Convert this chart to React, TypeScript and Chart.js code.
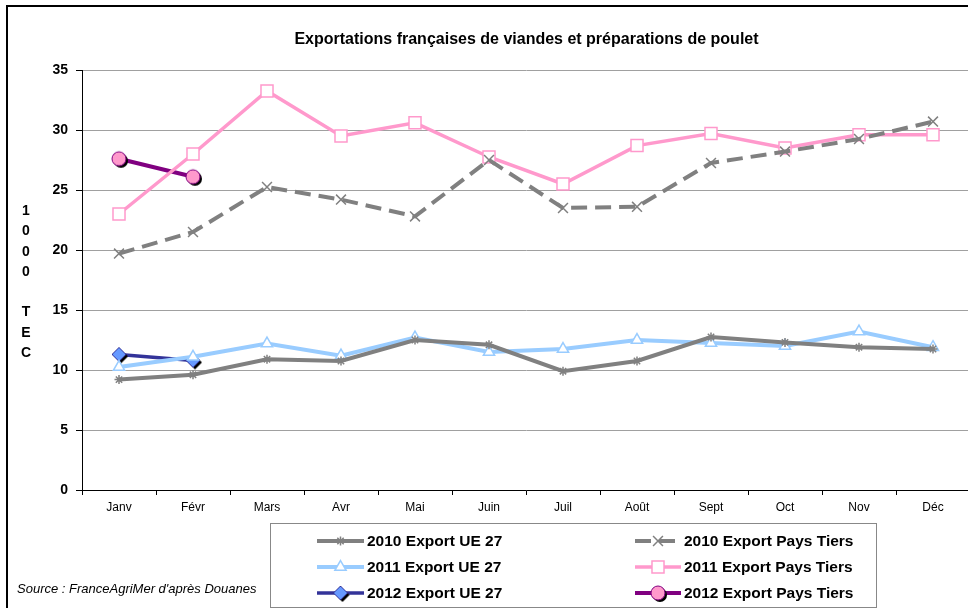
import React, { useEffect, useRef } from "react";
import { Chart, registerables } from "chart.js";
import { drawPoint } from "chart.js/helpers";

Chart.register(...registerables);

const months = ["Janv", "Févr", "Mars", "Avr", "Mai", "Juin", "Juil", "Août", "Sept", "Oct", "Nov", "Déc"];
const ue2010 = [9.2, 9.6, 10.9, 10.75, 12.5, 12.1, 9.9, 10.75, 12.75, 12.3, 11.9, 11.75];
const pt2010 = [19.7, 21.5, 25.25, 24.2, 22.8, 27.5, 23.5, 23.6, 27.25, 28.2, 29.25, 30.7];
const ue2011 = [10.25, 11.1, 12.2, 11.2, 12.7, 11.5, 11.75, 12.5, 12.25, 12.0, 13.2, 11.9];
const pt2011 = [23.0, 28.0, 33.25, 29.5, 30.6, 27.75, 25.5, 28.7, 29.7, 28.5, 29.6, 29.6];
const ue2012 = [11.3, 10.8];
const pt2012 = [27.6, 26.1];
const seriesNames = [
  "2010 Export UE 27",
  "2010 Export Pays Tiers",
  "2011 Export UE 27",
  "2011 Export Pays Tiers",
  "2012 Export UE 27",
  "2012 Export Pays Tiers",
];
const yLabelLetters = ["1", "0", "0", "0", "", "T", "E", "C"];
const titleText = "Exportations françaises de viandes et préparations de poulet";
const sourceText = "Source : FranceAgriMer d'après Douanes";

const FONT = '"Liberation Sans", Arial, sans-serif';

function makeMarker(kind: "circle" | "diamond", fill: string, stroke: string): HTMLCanvasElement {
  const c = document.createElement("canvas");
  c.width = 24;
  c.height = 24;
  const ctx = c.getContext("2d")!;
  const cx = 12, cy = 12, r = 7;
  const shape = (x: number, y: number) => {
    ctx.beginPath();
    if (kind === "circle") {
      ctx.arc(x, y, r, 0, Math.PI * 2);
    } else {
      ctx.moveTo(x, y - r);
      ctx.lineTo(x + r, y);
      ctx.lineTo(x, y + r);
      ctx.lineTo(x - r, y);
      ctx.closePath();
    }
  };
  ctx.fillStyle = "#000";
  shape(cx + 2, cy + 2);
  ctx.fill();
  shape(cx, cy);
  ctx.fillStyle = fill;
  ctx.fill();
  ctx.lineWidth = 1;
  ctx.strokeStyle = stroke;
  ctx.stroke();
  return c;
}

const legendBoxPlugin = {
  id: "legendBox",
  afterDraw(chart: any) {
    const ctx = chart.ctx;
    ctx.save();
    ctx.strokeStyle = "#888";
    ctx.lineWidth = 1;
    ctx.setLineDash([]);
    ctx.strokeRect(270.5, 523.5, 606, 84);
    const cols = [{ x0: 317, x1: 364, tx: 367 }, { x0: 635, x1: 681, tx: 684 }];
    const rows = [541, 567, 593];
    chart.data.datasets.forEach((ds: any, i: number) => {
      const col = cols[i % 2];
      const y = rows[Math.floor(i / 2)];
      ctx.save();
      ctx.beginPath();
      ctx.setLineDash(ds.borderDash || []);
      ctx.lineWidth = ds.borderWidth;
      ctx.strokeStyle = ds.borderColor;
      ctx.moveTo(col.x0, y);
      ctx.lineTo(col.x1, y);
      ctx.stroke();
      ctx.setLineDash([]);
      ctx.fillStyle = ds.pointBackgroundColor;
      ctx.strokeStyle = ds.pointBorderColor;
      ctx.lineWidth = ds.pointBorderWidth;
      drawPoint(ctx, { pointStyle: ds.pointStyle, rotation: 0, radius: ds.pointRadius, borderWidth: ds.pointBorderWidth }, (col.x0 + col.x1) / 2, y);
      ctx.restore();
      ctx.fillStyle = "#000";
      ctx.font = `bold 15.5px ${FONT}`;
      ctx.textBaseline = "middle";
      ctx.textAlign = "left";
      ctx.fillText(ds.label, col.tx, y + 1);
    });
    ctx.restore();
  },
};

export default function App() {
  const ref = useRef<HTMLCanvasElement | null>(null);
  useEffect(() => {
    if (!ref.current) return;
    const circle = makeMarker("circle", "#ff99cc", "#800080");
    const diamond = makeMarker("diamond", "#6699ff", "#333399");
    const chart = new Chart(ref.current, {
      type: "line",
      data: {
        labels: months,
        datasets: [
          {
            label: seriesNames[0], data: ue2010, borderColor: "#808080", borderWidth: 4,
            pointStyle: "star", pointRadius: 4.5, pointBorderColor: "#808080", pointBackgroundColor: "#808080", pointBorderWidth: 1.5,
          },
          {
            label: seriesNames[1], data: pt2010, borderColor: "#808080", borderWidth: 4, borderDash: [16, 8],
            pointStyle: "crossRot", pointRadius: 7, pointBorderColor: "#808080", pointBackgroundColor: "#808080", pointBorderWidth: 1.5,
          },
          {
            label: seriesNames[2], data: ue2011, borderColor: "#99ccff", borderWidth: 4,
            pointStyle: "triangle", pointRadius: 6.5, pointBorderColor: "#99ccff", pointBackgroundColor: "#ffffff", pointBorderWidth: 1.5,
          },
          {
            label: seriesNames[3], data: pt2011, borderColor: "#ff99cc", borderWidth: 3.5,
            pointStyle: "rect", pointRadius: 8.5, pointBorderColor: "#ff99cc", pointBackgroundColor: "#ffffff", pointBorderWidth: 1.5,
          },
          {
            label: seriesNames[4], data: ue2012, borderColor: "#333399", borderWidth: 3.5,
            pointStyle: diamond, pointRadius: 7, pointBorderColor: "#333399", pointBackgroundColor: "#6699ff", pointBorderWidth: 1,
          },
          {
            label: seriesNames[5], data: pt2012, borderColor: "#800080", borderWidth: 4,
            pointStyle: circle, pointRadius: 7, pointBorderColor: "#800080", pointBackgroundColor: "#ff99cc", pointBorderWidth: 1,
          },
        ] as any,
      },
      options: {
        responsive: false,
        animation: false,
        devicePixelRatio: 1,
        layout: { padding: { left: 0, right: 9, top: 70, bottom: 0 } },
        elements: { line: { tension: 0 } },
        plugins: { legend: { display: false }, title: { display: false }, tooltip: { enabled: false } },
        scales: {
          x: {
            offset: true,
            afterFit: (s: any) => { s.height = 118; },
            grid: { display: true, drawOnChartArea: false, drawTicks: true, tickLength: 5, offset: true, tickColor: "#000" },
            border: { display: true, color: "#000", width: 1 },
            ticks: { color: "#000", font: { family: FONT, size: 12 }, maxRotation: 0, autoSkip: false, padding: 5 },
          },
          y: {
            min: 0,
            max: 35,
            afterFit: (s: any) => { s.width = 82; },
            grid: { color: "#a0a0a0", lineWidth: 1, tickLength: 6, tickColor: "#000" },
            border: { display: true, color: "#000", width: 1 },
            ticks: { stepSize: 5, color: "#000", font: { family: FONT, size: 14, weight: "bold" }, padding: 8 },
          },
        },
      },
      plugins: [legendBoxPlugin],
    });
    return () => chart.destroy();
  }, []);

  return (
    <div style={{ position: "absolute", left: 0, top: 0, width: 968, height: 608, overflow: "hidden", background: "#fff" }}>
      <canvas ref={ref} width={980} height={608} style={{ position: "absolute", left: 0, top: 0, width: 980, height: 608 }} />
      <div style={{ position: "absolute", left: 6, top: 5, width: 1000, height: 700, border: "2px solid #000", boxSizing: "border-box", pointerEvents: "none" }} />
      <div style={{ position: "absolute", left: 82, width: 889, top: 30, lineHeight: "18px", textAlign: "center", font: `bold 16px ${FONT}`, color: "#000" }}>{titleText}</div>
      <div style={{ position: "absolute", left: 16, top: 200, width: 20, textAlign: "center", font: `bold 14px ${FONT}`, color: "#000" }}>
        {yLabelLetters.map((l, i) => (
          <div key={i} style={{ height: 20.3, lineHeight: "20px" }}>{l || "\u00a0"}</div>
        ))}
      </div>
      <div style={{ position: "absolute", left: 17, top: 581, font: `italic 13px ${FONT}`, color: "#000" }}>{sourceText}</div>
    </div>
  );
}
